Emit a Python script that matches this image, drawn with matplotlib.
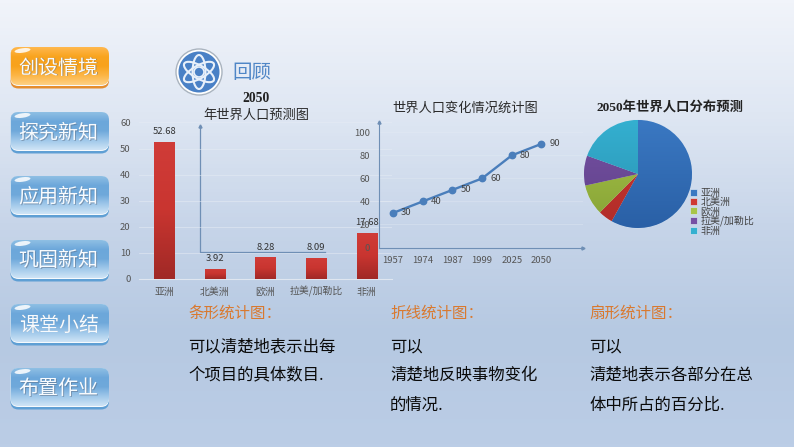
import numpy as np
import matplotlib
matplotlib.use('Agg')
import matplotlib.pyplot as plt
from matplotlib.colors import LinearSegmentedColormap
from matplotlib.patches import FancyBboxPatch, Ellipse, Circle

plt.rcParams['font.family'] = ['Noto Sans CJK SC', 'DejaVu Sans']

W, H = 794, 447

# Bar chart data
regions = ['亚洲', '北美洲', '欧洲', '拉美/加勒比', '非洲']
population_2050 = [52.68, 3.92, 8.28, 8.09, 17.68]
bar_labels = ['52.68', '3.92', '8.28', '8.09', '17.68']
bar_ticks = [0, 10, 20, 30, 40, 50, 60]

# Line chart data
years = ['1957', '1974', '1987', '1999', '2025', '2050']
world_population = [30, 40, 50, 60, 80, 90]
line_ticks = [0, 20, 40, 60, 80, 100]

# Pie colours
pie_colors = [('#3a78c2', '#2a60a6'), ('#cf3a33', '#b02c28'), ('#a8c548', '#86a236'),
              ('#7650a4', '#5f4288'), ('#34b0d0', '#2a8fb0')]

menu_items = ['创设情境', '探究新知', '应用新知', '巩固新知', '课堂小结', '布置作业']
menu_tops = [47, 112, 176, 240, 304, 368]

notes = [
    (188, '条形统计图：', ['可以清楚地表示出每', '个项目的具体数目.']),
    (390, '折线统计图：', ['可以', '清楚地反映事物变化', '的情况.']),
    (589, '扇形统计图：', ['可以', '清楚地表示各部分在总', '体中所占的百分比.']),
]
note_rows = [347, 375, 405]

CN_SERIF = ['Liberation Serif', 'Noto Sans CJK SC']


def axes_px(fig, left, top, right, bottom, **kwargs):
    # axes placed by pixel box, y measured from the top of the picture
    return fig.add_axes([left / W, 1 - bottom / H, (right - left) / W, (bottom - top) / H], **kwargs)


def gradient(ax, colors, extent, clip=None, zorder=1):
    cmap = LinearSegmentedColormap.from_list('g', colors)
    im = ax.imshow(np.linspace(0, 1, 128).reshape(-1, 1), cmap=cmap, extent=extent,
                   aspect='auto', origin='upper', zorder=zorder)
    if clip is not None:
        im.set_clip_path(clip)
    return im


def round_box(ax, x0, y0, x1, y1, r, **kwargs):
    box = FancyBboxPatch((x0 + r, y0 + r), x1 - x0 - 2 * r, y1 - y0 - 2 * r,
                         boxstyle=f'round,pad={r},rounding_size={r}', **kwargs)
    ax.add_patch(box)
    return box


fig = plt.figure(figsize=(W / 100, H / 100), dpi=100)

# Background and everything that is not a chart, in pixel coordinates
bg = fig.add_axes([0, 0, 1, 1])
bg.axis('off')
gradient(bg, ['#f1f4fa', '#dfe7f3', '#c7d5e9', '#b6c9e2', '#bbcde6'], (0, W, H, 0), zorder=0)

# Menu buttons
for i, (item, top) in enumerate(zip(menu_items, menu_tops)):
    if i == 0:
        rim, fill = '#e58d2e', ['#ffb84e', '#f9a41f', '#f8a21c', '#fcb545', '#fed083']
    else:
        rim, fill = '#5f9fd4', ['#8fbfe4', '#6ca7da', '#6fa9db', '#a0c8ea', '#cfe4f6']
    x0, x1, y0, y1 = 10.5, 109, top, top + 41.5
    round_box(bg, x0, y0, x1, y1, 8, lw=0, fc=rim, zorder=2)
    round_box(bg, x0, y0, x1, y1 - 2.5, 8, lw=0, fc='#f6fafd', zorder=2.5)
    body = round_box(bg, x0, y0, x1, y1 - 3.5, 8, lw=0, fc='none', zorder=3)
    gradient(bg, fill, (x0, x1, y1 - 3.5, y0), clip=body, zorder=3)
    bg.add_patch(Ellipse((x0 + 12, y0 + 3.5), 16, 4.5, angle=-8, fc='white', ec='none', alpha=0.85, zorder=4))
    bg.text(59.5, top + 21.7, item, fontsize=14.4, color='#5f6f85', alpha=0.5, ha='center', va='center', zorder=4)
    bg.text(58.7, top + 21, item, fontsize=14.4, color='#f8fbfe', ha='center', va='center', zorder=5)

# Round icon with the atom
bg.add_patch(Circle((199, 72), 23, fc='#ffffff', ec='#aab4bf', lw=1, zorder=2))
bg.add_patch(Circle((199, 72), 20.5, fc='#4a81c6', ec='none', zorder=3))
for angle in (30, 90, 150):
    bg.add_patch(Ellipse((199, 72), 34, 13, angle=angle, fc='none', ec='#e8f0fa', lw=1.5, zorder=4))
bg.add_patch(Circle((199, 72), 5, fc='#4a81c6', ec='#e8f0fa', lw=1.2, zorder=4))
bg.text(232, 72, '回顾', fontsize=14, color='#4f86c6', va='center', zorder=4)

# Bottom notes
for x, head, lines in notes:
    bg.text(x, 313, head, fontsize=11.2, color='#d9792f', va='center')
    for row, line in zip(note_rows, lines):
        bg.text(x, row, line, fontsize=11.8, color='#0a0a0a', va='center')

# Chart titles
bg.text(256, 99, '2050', fontsize=9.8, fontweight='bold', family='Liberation Serif', color='#222222',
        ha='center', va='center')
bg.text(256, 115, '年世界人口预测图', fontsize=9.5, color='#2a2a2a', ha='center', va='center')
bg.text(465, 108, '世界人口变化情况统计图', fontsize=9.5, color='#2a2a2a', ha='center', va='center')
bg.text(670, 107, '2050年世界人口分布预测', fontsize=9.6, fontweight='bold', family=CN_SERIF,
        color='#222222', ha='center', va='center')

# Bar chart
ax1 = axes_px(fig, 139, 122.5, 392, 279)
ax1.patch.set_alpha(0)
bars = ax1.bar(range(len(regions)), population_2050, width=0.4, color='none', zorder=3)
for bar, text in zip(bars, bar_labels):
    x, w, h = bar.get_x(), bar.get_width(), bar.get_height()
    gradient(ax1, ['#d03c38', '#c93530', '#a02926'], (x, x + w, 0, h), clip=bar, zorder=3)
    ax1.text(x + w / 2, h + 2.1, text, fontsize=6.8, color='#333333', ha='center', va='bottom', zorder=4)
ax1.set_xlim(-0.5, 4.5)
ax1.set_ylim(0, 60)
ax1.set_yticks(bar_ticks)
ax1.set_xticks(range(len(regions)))
ax1.set_xticklabels(regions, va='baseline')
ax1.tick_params(length=0, labelcolor='#555555')
ax1.tick_params(axis='x', labelsize=7.1, pad=11.2)
ax1.tick_params(axis='y', labelsize=6.8, pad=6)
ax1.grid(axis='y', color='#e6ecf4', lw=0.6, alpha=0.6)
ax1.set_axisbelow(True)
for s in ['top', 'left', 'right']:
    ax1.spines[s].set_visible(False)
ax1.spines['bottom'].set_color('#dfe6f0')

# Stray axis lines left over on the slide
bg.plot([200, 200, 325], [126, 251.5, 251.5], color='#6f8fb5', lw=0.9, zorder=6)
bg.plot([200], [126], marker='^', ms=2.2, color='#6f8fb5', zorder=6)
bg.set_xlim(0, W)
bg.set_ylim(H, 0)

# Line chart
ax2 = axes_px(fig, 378.5, 122, 583, 247.5)
ax2.patch.set_alpha(0)
positions = np.arange(len(years))
ax2.plot(positions, world_population, color='#4a7ebb', lw=1.7, marker='o', ms=4.6, zorder=3)
for p, v in zip(positions, world_population):
    ax2.annotate(str(v), (p, v), xytext=(5.8, 0), textcoords='offset points', fontsize=6.8,
                 color='#444444', va='center')
ax2.set_xlim(-0.49, 6.4)
ax2.set_ylim(0, 109)
ax2.set_yticks(line_ticks)
ax2.set_xticks(positions)
ax2.set_xticklabels(years)
ax2.tick_params(length=0, labelsize=6.8, labelcolor='#555555', pad=6)
ax2.grid(axis='y', color='#e6ecf4', lw=0.6, alpha=0.4)
for s in ['top', 'right']:
    ax2.spines[s].set_visible(False)
ax2.spines['left'].set_color('#6f8fb5')
ax2.spines['bottom'].set_color('#6f8fb5')
ax2.plot([0], [1], marker='^', ms=2.2, color='#6f8fb5', transform=ax2.transAxes, clip_on=False)
ax2.plot([1], [0], marker='>', ms=2.2, color='#6f8fb5', transform=ax2.transAxes, clip_on=False)

# Pie chart
ax3 = axes_px(fig, 584, 120, 692, 228)
ax3.patch.set_alpha(0)
wedges, _ = ax3.pie(population_2050, startangle=90, counterclock=False, radius=1,
                    colors=[c[0] for c in pie_colors],
                    wedgeprops={'edgecolor': '#d5e2f0', 'linewidth': 0.5})
for wedge, pair in zip(wedges, pie_colors):
    gradient(ax3, pair, (-1, 1, -1, 1), clip=wedge, zorder=2)
ax3.set_xlim(-1, 1)
ax3.set_ylim(-1, 1)
fig.legend(wedges, regions, loc='upper left', bbox_to_anchor=(690 / W, 1 - 187.5 / H), frameon=False,
           fontsize=7.2, labelcolor='#444444', handlelength=0.7, handleheight=0.7, handletextpad=0.35,
           labelspacing=-0.06, borderpad=0, borderaxespad=0)

fig.savefig('out.png', dpi=100)
